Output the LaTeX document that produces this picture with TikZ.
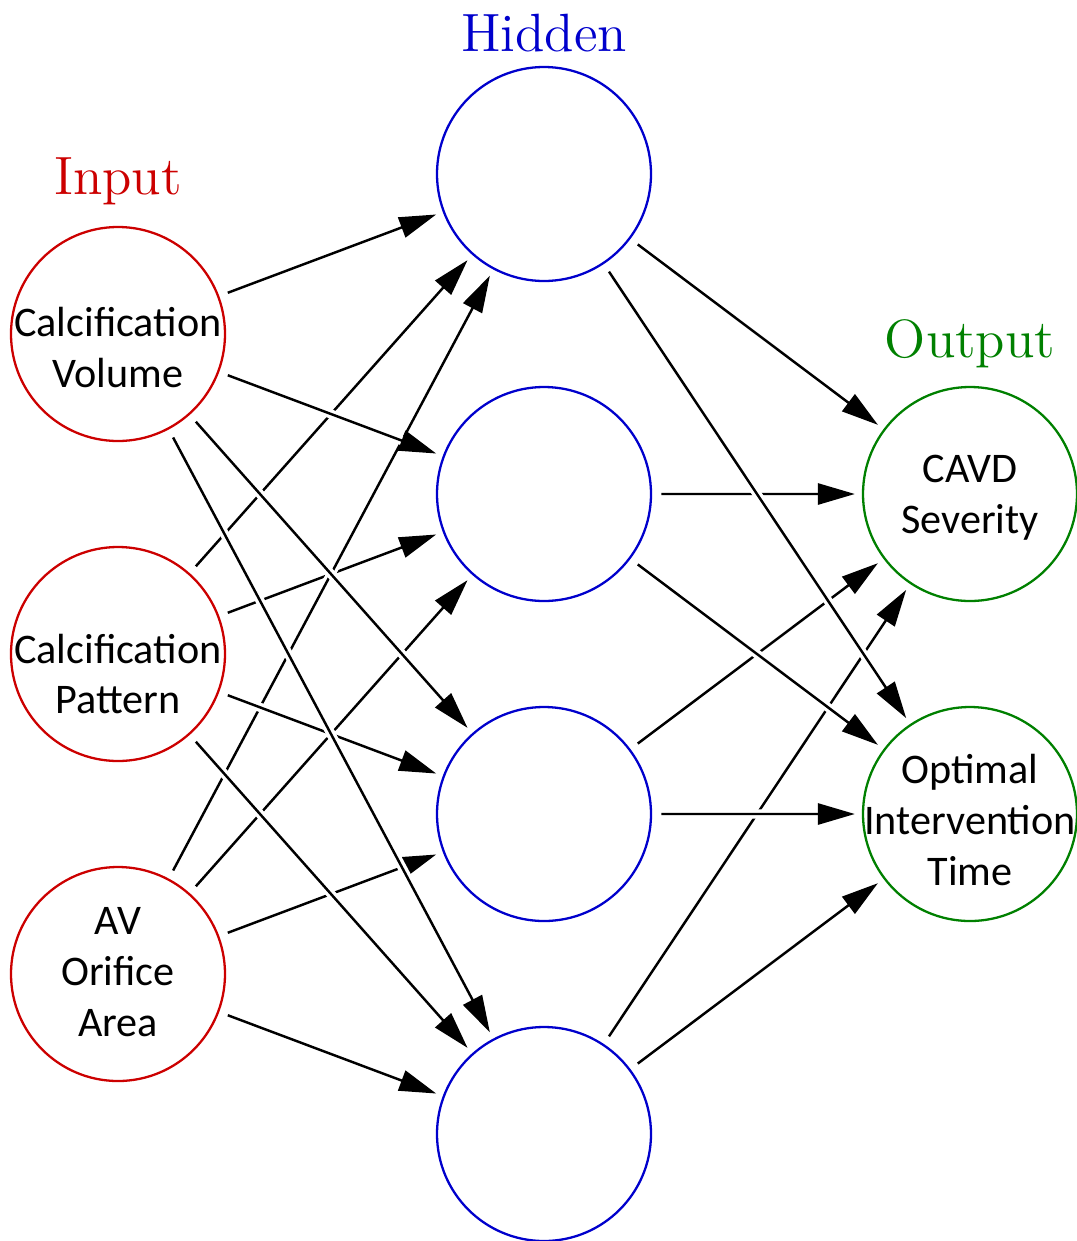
\documentclass[tikz,border=0pt]{standalone}
\usepackage{fontspec}
\setsansfont{Carlito}
\usetikzlibrary{arrows.meta,positioning}

\definecolor{inred}{RGB}{204,0,0}
\definecolor{hidblue}{RGB}{0,0,204}
\definecolor{outgreen}{RGB}{0,128,0}

\begin{document}
\begin{tikzpicture}[>={Triangle[length=10.5pt,width=6pt]},shorten >=2pt,shorten <=2.6pt,node distance=3.2cm,
    neuron/.style={circle,draw,line width=0.65pt,minimum size=2.14cm,inner sep=0pt},
    in node/.style={neuron,draw=inred},
    hid node/.style={neuron,draw=hidblue},
    out node/.style={neuron,draw=outgreen},
    txt/.style={align=center,font=\sffamily\fontsize{12}{14.5}\selectfont},
    layer/.style={font=\Large,scale=1.065,anchor=base},
    every edge/.style={draw,->,line width=0.7pt,preaction={draw=white,line width=2.6pt,-}}]

    \useasboundingbox (0,0) rectangle (10.77,-12.41);

    % hidden layer
    \node[hid node] (h1) at (5.44,-1.74) {};
    \node[hid node] (h2) [below of = h1] {};
    \node[hid node] (h3) [below of = h2] {};
    \node[hid node] (h4) [below of = h3] {};

    % input layer
    \node[in node] (i1) at (1.18,-3.34) {};
    \node[in node] (i2) [below of = i1] {};
    \node[in node] (i3) [below of = i2] {};

    % output layer
    \node[out node] (o1) at (9.70,-4.94) {};
    \node[out node] (o2) [below of = o1] {};

    \node[txt] (i1t) at ([yshift=-0.135cm]i1) {Calcification\\Volume};
    \node[txt] (i2t) at ([yshift=-0.2cm]i2) {Calcification\\Pattern};
    \node[txt] (i3t) at ([yshift=0.02cm]i3) {AV\\Orifice\\Area};
    \node[txt] (o1t) at ([yshift=-0.04cm]o1) {CAVD\\Severity};
    \node[txt] (o2t) at ([yshift=-0.06cm]o2) {Optimal\\Intervention\\Time};

    \node[layer,text=inred] (inlbl) at (1.18,-1.94) {Input};
    \node[layer,text=hidblue] (hidlbl) at (5.44,-0.51) {Hidden};
    \node[layer,text=outgreen] (outlbl) at (9.70,-3.57) {Output};

    \path
        (i1) edge (h1)
        (i2) edge (h1)
        (i2) edge (h2)
        (i3) edge (h1)
        (i3) edge (h2)
        (i3) edge (h3)
        (i2) edge (h3)
        (i2) edge (h4)
        (i1) edge (h2)
        (i1) edge (h3)
        (i1) edge (h4)
        (i3) edge (h4)
        ;

    \path
        (h1) edge (o1)
        (h2) edge (o1)
        (h3) edge (o1)
        (h4) edge (o1)
        (h1) edge (o2)
        (h2) edge (o2)
        (h3) edge (o2)
        (h4) edge (o2)
        ;
\end{tikzpicture}
\end{document}
